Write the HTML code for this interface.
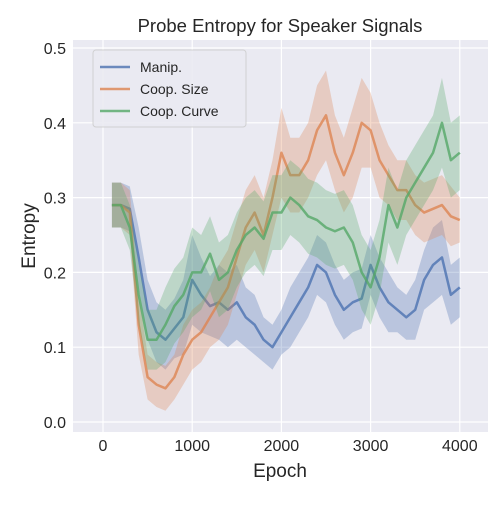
<!DOCTYPE html>
<html><head><meta charset="utf-8"><style>
body{margin:0;background:#fff;font-family:"Liberation Sans",sans-serif}
svg text{font-family:"Liberation Sans",sans-serif;fill:#262626}
</style></head><body>
<svg id="chart" width="500" height="500" viewBox="0 0 500 500" xmlns="http://www.w3.org/2000/svg">
<rect x="0" y="0" width="500" height="500" fill="#fff"/>
<rect x="73" y="40" width="415" height="392" fill="#EAEAF2"/>
<g id="grid"></g><g id="series"></g><g id="ticks"></g>
<text x="280" y="32" font-size="18.5" text-anchor="middle">Probe Entropy for Speaker Signals</text>
<text x="280" y="477" font-size="19" text-anchor="middle">Epoch</text>
<text x="0" y="0" font-size="19" text-anchor="middle" transform="translate(35,236) rotate(-90)">Entropy</text>
<g>
<rect x="93" y="50" width="153" height="77" rx="3" fill="#EAEAF2" stroke="#cccccc" opacity="0.85"/>
<line x1="100" y1="67" x2="130" y2="67" stroke="#4C72B0" stroke-width="2.5" opacity="0.8"/>
<text x="140" y="72" font-size="14">Manip.</text>
<line x1="100" y1="89" x2="130" y2="89" stroke="#DD8452" stroke-width="2.5" opacity="0.8"/>
<text x="140" y="94" font-size="14">Coop. Size</text>
<line x1="100" y1="111" x2="130" y2="111" stroke="#55A868" stroke-width="2.5" opacity="0.8"/>
<text x="140" y="116" font-size="14">Coop. Curve</text>
</g>
</svg>
<script>
const epochs=[100,200,300,400,500,600,700,800,900,1000,1100,1200,1300,1400,1500,1600,1700,1800,1900,2000,2100,2200,2300,2400,2500,2600,2700,2800,2900,3000,3100,3200,3300,3400,3500,3600,3700,3800,3900,4000];
const manip=[0.29,0.29,0.285,0.22,0.15,0.12,0.11,0.125,0.14,0.19,0.17,0.155,0.16,0.15,0.16,0.14,0.13,0.11,0.10,0.12,0.14,0.16,0.18,0.21,0.20,0.17,0.15,0.16,0.165,0.21,0.18,0.16,0.15,0.14,0.15,0.19,0.21,0.22,0.17,0.18];
const coopSize=[0.29,0.29,0.28,0.13,0.06,0.05,0.045,0.06,0.09,0.11,0.12,0.14,0.16,0.18,0.22,0.26,0.28,0.25,0.30,0.36,0.33,0.33,0.35,0.39,0.41,0.36,0.33,0.36,0.40,0.39,0.35,0.33,0.31,0.31,0.29,0.28,0.285,0.29,0.275,0.27];
const coopCurve=[0.29,0.29,0.26,0.17,0.11,0.11,0.13,0.155,0.17,0.20,0.20,0.225,0.19,0.20,0.23,0.25,0.26,0.245,0.28,0.28,0.30,0.29,0.275,0.27,0.26,0.255,0.26,0.24,0.20,0.18,0.22,0.29,0.26,0.30,0.32,0.34,0.36,0.40,0.35,0.36];
const manipSpread=[0.03,0.03,0.03,0.04,0.04,0.04,0.04,0.04,0.05,0.06,0.05,0.04,0.05,0.05,0.05,0.04,0.04,0.03,0.03,0.03,0.04,0.04,0.04,0.04,0.04,0.04,0.04,0.04,0.04,0.04,0.04,0.04,0.03,0.03,0.04,0.04,0.05,0.05,0.04,0.04];
const sizeSpread=[0.03,0.03,0.03,0.04,0.03,0.03,0.03,0.03,0.04,0.04,0.04,0.04,0.05,0.05,0.05,0.05,0.05,0.05,0.05,0.06,0.05,0.05,0.05,0.06,0.06,0.05,0.05,0.06,0.06,0.05,0.05,0.04,0.04,0.04,0.04,0.04,0.04,0.04,0.04,0.03];
const curveSpread=[0.03,0.03,0.03,0.04,0.04,0.04,0.05,0.05,0.05,0.06,0.05,0.05,0.05,0.05,0.05,0.05,0.05,0.05,0.05,0.05,0.05,0.05,0.05,0.05,0.05,0.05,0.05,0.05,0.05,0.05,0.05,0.05,0.05,0.05,0.05,0.05,0.05,0.06,0.05,0.05];
const xTicks=[0,1000,2000,3000,4000];
const yTicks=[0.0,0.1,0.2,0.3,0.4,0.5];
const xTickLabels=["0","1000","2000","3000","4000"];
const yTickLabels=["0.0","0.1","0.2","0.3","0.4","0.5"];
const NS="http://www.w3.org/2000/svg";
function xs(e){return 103+e*0.0892;}
function ys(v){return 422-v*748;}
const grid=document.getElementById('grid'),ticks=document.getElementById('ticks'),ser=document.getElementById('series');
xTicks.forEach((t,i)=>{
 const l=document.createElementNS(NS,'line');
 
 
 l.setAttribute('x1',xs(t));l.setAttribute('x2',xs(t));l.setAttribute('y1',40);l.setAttribute('y2',432);l.setAttribute('stroke','#fff');l.setAttribute('stroke-width','1.2');grid.appendChild(l);
 const tx=document.createElementNS(NS,'text');
 
 
 tx.setAttribute('x',xs(t));tx.setAttribute('y',451);tx.setAttribute('font-size','16');tx.setAttribute('text-anchor','middle');tx.textContent=xTickLabels[i];ticks.appendChild(tx);
});
yTicks.forEach((t,i)=>{
 const l=document.createElementNS(NS,'line');
 
 
 l.setAttribute('x1',73);l.setAttribute('x2',488);l.setAttribute('y1',ys(t));l.setAttribute('y2',ys(t));l.setAttribute('stroke','#fff');l.setAttribute('stroke-width','1.2');grid.appendChild(l);
 const tx=document.createElementNS(NS,'text');
 
 
 tx.setAttribute('x',66);tx.setAttribute('y',ys(t)+6);tx.setAttribute('font-size','16');tx.setAttribute('text-anchor','end');tx.textContent=yTickLabels[i];ticks.appendChild(tx);
});
function draw(vals,spread,color,name){
 let up=vals.map((v,i)=>xs(epochs[i])+','+ys(v+spread[i]));
 let dn=vals.map((v,i)=>xs(epochs[i])+','+ys(v-spread[i])).reverse();
 const b=document.createElementNS(NS,'polygon');
 
 
 b.setAttribute('points',up.concat(dn).join(' '));b.setAttribute('fill',color);b.setAttribute('opacity','0.3');ser.appendChild(b);
 const p=document.createElementNS(NS,'polyline');
 
 
 p.setAttribute('points',vals.map((v,i)=>xs(epochs[i])+','+ys(v)).join(' '));
 p.setAttribute('fill','none');p.setAttribute('stroke',color);p.setAttribute('stroke-width','2.5');p.setAttribute('stroke-linejoin','round');p.setAttribute('opacity','0.8');ser.appendChild(p);
}
draw(manip,manipSpread,'#4C72B0','manip');
draw(coopSize,sizeSpread,'#DD8452','coop-size');
draw(coopCurve,curveSpread,'#55A868','coop-curve');
</script>
</body></html>
